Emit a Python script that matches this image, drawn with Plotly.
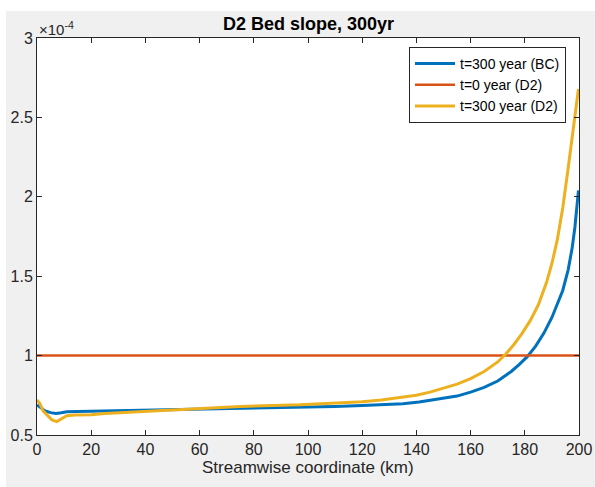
import plotly.graph_objects as go

# Streamwise coordinate (km) and bed slope (units of 1e-4)
bc_x = [0, 1.5, 3, 5, 7, 9, 11, 15, 22, 30, 40, 52, 65, 80, 97, 110, 120, 127, 135, 141,
        146, 150, 155, 160, 165, 170, 175, 178, 181, 184, 187, 190, 192, 194, 196, 197.5,
        198.5, 199.3, 199.8]
bc_y = [0.69, 0.67, 0.652, 0.641, 0.636, 0.640, 0.646, 0.648, 0.650, 0.654, 0.658, 0.662,
        0.665, 0.668, 0.674, 0.680, 0.685, 0.690, 0.697, 0.708, 0.720, 0.730, 0.745, 0.770,
        0.800, 0.840, 0.900, 0.945, 0.995, 1.06, 1.14, 1.24, 1.32, 1.41, 1.54, 1.68, 1.81,
        1.95, 2.04]

d2_0_x = [0, 200]
d2_0_y = [1.0, 1.0]

d2_x = [0, 1, 2.3, 4, 5.5, 7.3, 9, 11, 14, 20, 25, 32, 40, 55, 75, 97, 110, 120, 127, 134,
        140, 145, 150, 155, 160, 165, 170, 173, 176, 179, 182, 185, 188, 190, 192, 194, 196,
        197.5, 198.8, 199.8]
d2_y = [0.72, 0.70, 0.65, 0.62, 0.595, 0.584, 0.60, 0.622, 0.626, 0.628, 0.636, 0.642,
        0.647, 0.66, 0.68, 0.69, 0.70, 0.71, 0.72, 0.735, 0.75, 0.77, 0.795, 0.82, 0.855,
        0.90, 0.96, 1.01, 1.07, 1.14, 1.22, 1.32, 1.46, 1.58, 1.73, 1.93, 2.18, 2.37, 2.55,
        2.68]

x_ticks = [0, 20, 40, 60, 80, 100, 120, 140, 160, 180, 200]
y_ticks = [0.5, 1, 1.5, 2, 2.5, 3]

BLUE = "#0072BD"
RED = "#D95319"
YEL = "#EDB120"
AX = "#262626"
FONT = "Liberation Sans, Arial, sans-serif"

fig = go.Figure()
fig.add_trace(go.Scatter(x=bc_x, y=bc_y, mode="lines", name="t=300 year (BC)",
                         line=dict(color=BLUE, width=3)))
fig.add_trace(go.Scatter(x=d2_0_x, y=d2_0_y, mode="lines", name="t=0 year (D2)",
                         line=dict(color=RED, width=2.5)))
fig.add_trace(go.Scatter(x=d2_x, y=d2_y, mode="lines", name="t=300 year (D2)",
                         line=dict(color=YEL, width=3)))

L, R, T, B = 37, 16, 38, 52
W, H = 595, 487
pw, ph = W - L - R, H - T - B

def px_x(x):
    return (x - L) / pw

def px_y(y):
    return (H - B - y) / ph

axis_common = dict(showgrid=False, zeroline=False, showline=True, linecolor=AX,
                   linewidth=1, mirror="ticks", ticks="inside", ticklen=5,
                   tickcolor=AX, automargin=False,
                   tickfont=dict(family=FONT, size=16, color=AX))

fig.update_layout(
    width=W, height=H,
    margin=dict(l=L, r=R, t=T, b=B, autoexpand=False),
    paper_bgcolor="#f0f0f0",
    plot_bgcolor="white",
    showlegend=True,
    legend=dict(x=px_x(566), y=px_y(47), xanchor="right", yanchor="top",
                bgcolor="white", bordercolor=AX, borderwidth=1,
                font=dict(family=FONT, size=14, color="#000000"),
                tracegroupgap=0, itemwidth=40),
    xaxis=dict(range=[0, 200], tickvals=x_ticks, **axis_common),
    yaxis=dict(range=[0.5, 3], tickvals=y_ticks, ticktext=[str(v) for v in y_ticks],
               **axis_common),
    shapes=[
        dict(type="rect", xref="paper", yref="paper", x0=px_x(-10), x1=px_x(605),
             y0=px_y(11), y1=px_y(-10), fillcolor="white", line_width=0, layer="below"),
        dict(type="rect", xref="paper", yref="paper", x0=px_x(-10), x1=px_x(6),
             y0=px_y(500), y1=px_y(-10), fillcolor="white", line_width=0, layer="below"),
    ],
    annotations=[
        dict(text="<b>D2 Bed slope, 300yr</b>", xref="paper", yref="paper",
             x=0.5, y=px_y(24), xanchor="center", yanchor="middle", showarrow=False,
             font=dict(family=FONT, size=18, color="#000000")),
        dict(text="Streamwise coordinate (km)", xref="paper", yref="paper",
             x=0.5, y=px_y(467), xanchor="center", yanchor="middle", showarrow=False,
             font=dict(family=FONT, size=17, color=AX)),
        dict(text="×10<sup>-4</sup>", xref="paper", yref="paper",
             x=px_x(37), y=px_y(28), xanchor="left", yanchor="middle", showarrow=False,
             font=dict(family=FONT, size=15, color=AX)),
    ],
)

fig.write_html("out.html")
